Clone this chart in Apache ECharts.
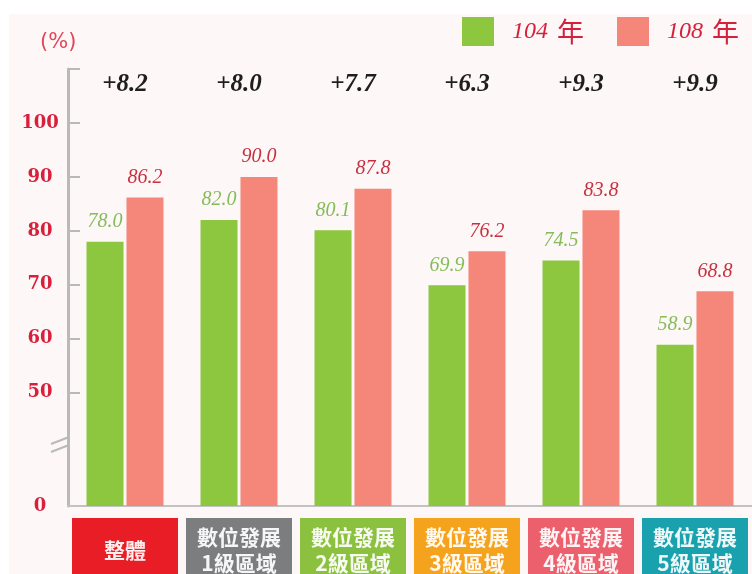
<!DOCTYPE html>
<html lang="zh-Hant">
<head>
  <meta charset="UTF-8" />
  <title>數位發展區域 104 / 108 年比較</title>
  <script src="https://cdn.jsdelivr.net/npm/echarts@6/dist/echarts.min.js"></script>
</head>
<body style="margin: 0; background: #fff">
  <div style="position: absolute; left: 9px; top: 14px; width: 743px; height: 560px; background: #fdf8f7"></div>
  <div id="main" style="position: absolute; left: 0; top: 0; width: 752px; height: 574px"></div>
  <script type="text/javascript">
    // 類別與資料
    var categories = ['整體', '數位發展\n1級區域', '數位發展\n2級區域', '數位發展\n3級區域', '數位發展\n4級區域', '數位發展\n5級區域'];
    var boxColors = ['#e81d26', '#7c7d7f', '#8cc13f', '#f5a31d', '#ec5f6c', '#1aa1ae'];
    var seriesNames = ['104 年', '108 年'];
    var values104 = [78.0, 82.0, 80.1, 69.9, 74.5, 58.9];
    var values108 = [86.2, 90.0, 87.8, 76.2, 83.8, 68.8];
    var diffLabels = ['+8.2', '+8.0', '+7.7', '+6.3', '+9.3', '+9.9'];
    var yLabelValues = [29, 50, 60, 70, 80, 90, 100]; // 29 = 斷軸底部，顯示為 0
    var yTickValues = [50, 60, 70, 80, 90, 100, 110];

    // 類別標籤的色塊樣式
    var rich = {};
    boxColors.forEach(function (c, i) {
      var base = {
        backgroundColor: c,
        width: 106,
        height: 26,
        align: 'center',
        color: 'rgba(255,255,255,0.93)',
        fontSize: 21,
        fontWeight: 'bold',
        fontFamily: 'Noto Sans CJK TC'
      };
      rich['a' + i] = Object.assign({}, base, { padding: [6, 0, 0, 0] });
      rich['b' + i] = Object.assign({}, base, { padding: [0, 0, 6, 0] });
      rich['s' + i] = Object.assign({}, base, { padding: [19, 0, 19, 0] });
    });

    var myChart = echarts.init(document.getElementById('main'));

    var barLabel = function (color) {
      return {
        show: true,
        position: 'top',
        distance: 10,
        color: color,
        fontFamily: 'Liberation Serif',
        fontStyle: 'italic',
        fontSize: 20,
        formatter: function (p) { return p.value.toFixed(1); }
      };
    };

    var option = {
      animation: false,
      title: {
        text: '(%)',
        left: 35,
        top: 27,
        textStyle: { color: '#e0475a', fontSize: 21, fontWeight: 'normal', fontFamily: 'DejaVu Sans' }
      },
      legend: {
        data: seriesNames,
        left: 462,
        top: 17,
        padding: 0,
        icon: 'rect',
        itemWidth: 32,
        itemHeight: 29,
        itemGap: 33,
        formatter: function (name) {
          return '{n|' + name.split(' ')[0] + '}{y|年}';
        },
        textStyle: {
          rich: {
            n: { color: '#d4213d', fontFamily: 'Liberation Serif', fontStyle: 'italic', fontSize: 24, padding: [0, 0, 0, 13] },
            y: { color: '#d4213d', fontFamily: 'Noto Sans CJK TC', fontSize: 27, padding: [0, 0, 0, 9] }
          }
        }
      },
      grid: { left: 68, right: 0, top: 69, bottom: 68, outerBoundsMode: 'none' },
      xAxis: [
        {
          type: 'category',
          data: categories,
          position: 'bottom',
          axisLine: { lineStyle: { color: '#c2c2c2', width: 2 } },
          axisTick: { inside: true, length: 14, lineStyle: { color: '#bdbdbd', width: 2 } },
          axisLabel: {
            interval: 0,
            margin: 12,
            formatter: function (v, i) {
              var parts = v.split('\n');
              if (parts.length === 1) return '{s' + i + '|' + v + '}';
              return '{a' + i + '|' + parts[0] + '}\n{b' + i + '|' + parts[1] + '}';
            },
            rich: rich
          }
        },
        {
          type: 'category',
          data: diffLabels,
          position: 'top',
          axisLine: { show: false },
          axisTick: { show: false },
          axisLabel: {
            inside: true,
            margin: 3,
            interval: 0,
            color: '#1e1e1e',
            fontFamily: 'Liberation Serif',
            fontStyle: 'italic',
            fontWeight: 'bold',
            fontSize: 25
          }
        }
      ],
      yAxis: {
        type: 'value',
        min: 29,
        max: 110,
        axisLine: { show: true, lineStyle: { color: '#b9b9b9', width: 3 } },
        axisTick: { show: true, inside: true, length: 12, customValues: yTickValues, lineStyle: { color: '#b9b9b9', width: 2 } },
        splitLine: { show: false },
        axisLabel: {
          customValues: yLabelValues,
          align: 'center',
          margin: 28,
          padding: [0, 0, 10, 0],
          color: '#d81f3c',
          fontFamily: 'DejaVu Serif',
          fontWeight: 'bold',
          fontSize: 18,
          formatter: function (v) { return v === 29 ? '0' : String(v); }
        }
      },
      graphic: [
        { type: 'line', shape: { x1: 51, y1: 444, x2: 69, y2: 437 }, style: { stroke: '#b9b9b9', lineWidth: 2 } },
        { type: 'line', shape: { x1: 51, y1: 452, x2: 69, y2: 445 }, style: { stroke: '#b9b9b9', lineWidth: 2 } }
      ],
      series: [
        {
          name: seriesNames[0],
          type: 'bar',
          data: values104,
          barWidth: 37,
          barGap: '8%',
          itemStyle: { color: '#8dc63f' },
          label: barLabel('#86bb5a')
        },
        {
          name: seriesNames[1],
          type: 'bar',
          data: values108,
          barWidth: 37,
          itemStyle: { color: '#f4877a' },
          label: barLabel('#c9303f')
        }
      ]
    };

    myChart.setOption(option);
    window.addEventListener('resize', myChart.resize);
  </script>
</body>
</html>
